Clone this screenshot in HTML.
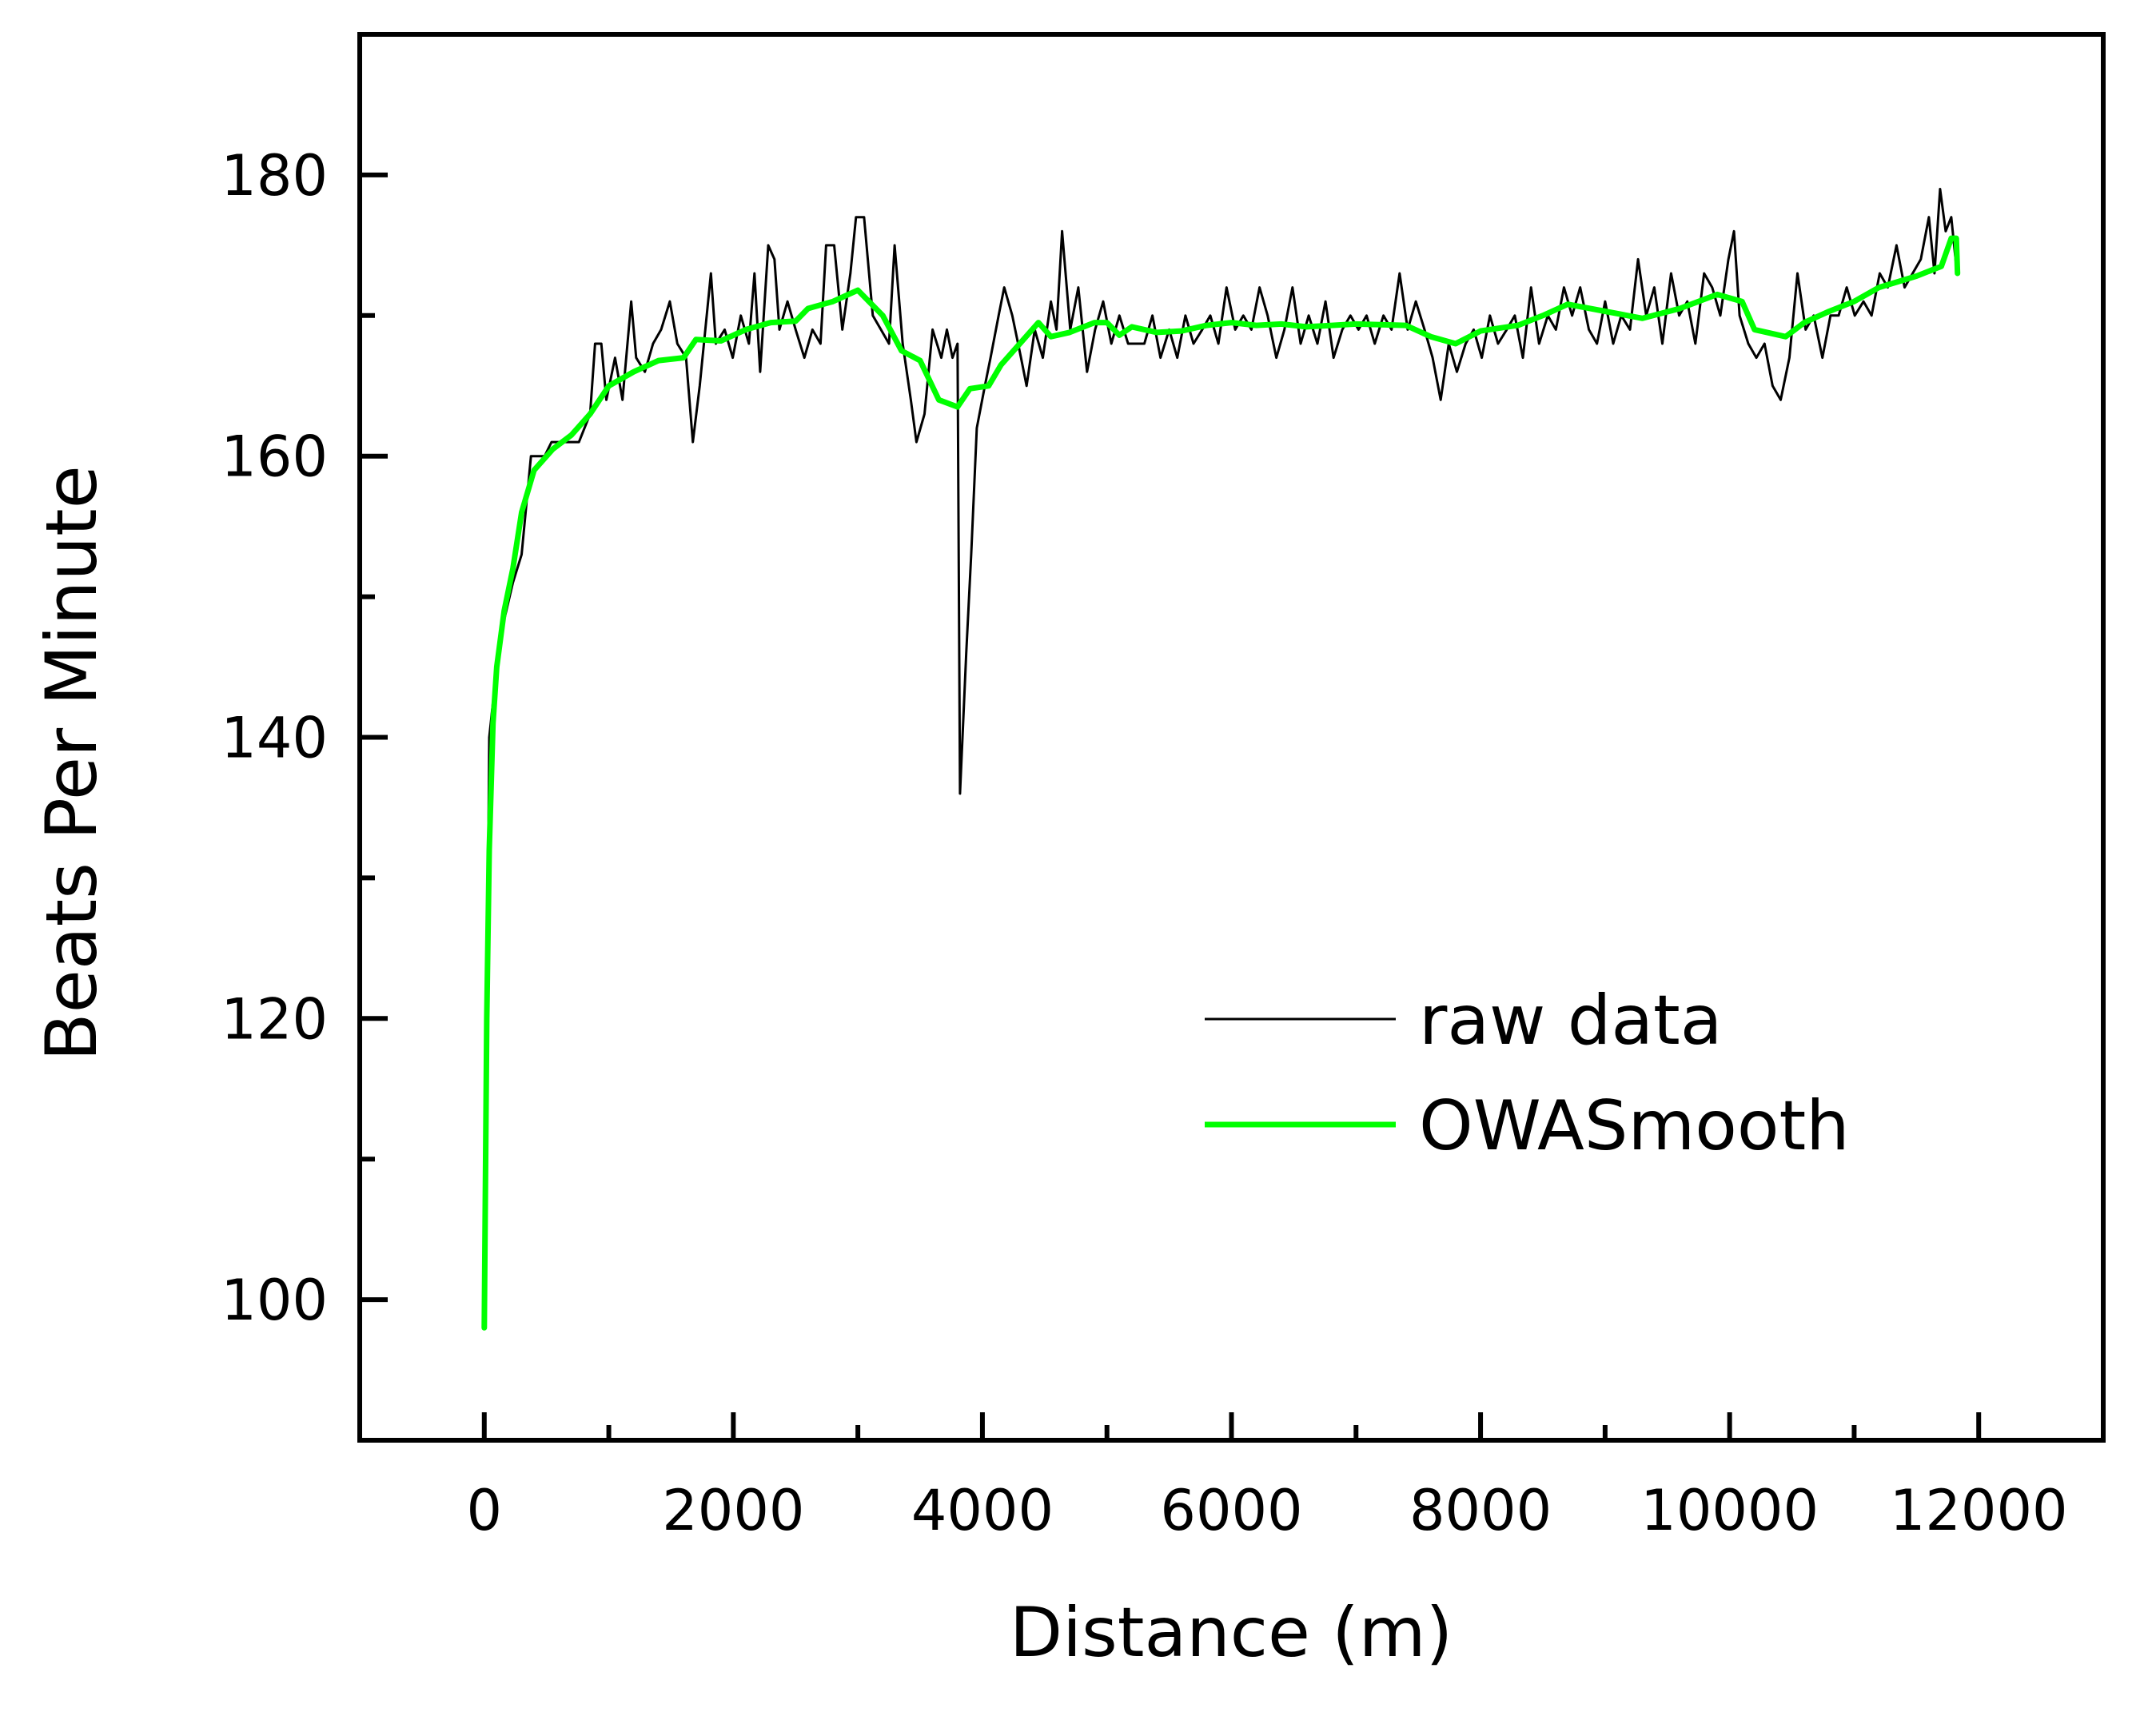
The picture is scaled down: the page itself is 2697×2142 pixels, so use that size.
<!DOCTYPE html>
<html><head><meta charset="utf-8"><style>
html,body{margin:0;padding:0;background:#fff;}
svg{display:block;font-family:"DejaVu Sans","Liberation Sans",sans-serif;}
</style></head><body>
<svg id="chart" width="2697" height="2142" viewBox="0 0 2697 2142" xmlns="http://www.w3.org/2000/svg">
<rect x="0" y="0" width="2697" height="2142" fill="#fff"/>
<g id="marks"></g>
<rect x="450" y="43" width="2181" height="1759" fill="none" stroke="#000" stroke-width="6"/>
<g id="axes"></g>
<text x="1540" y="2072" font-size="86" text-anchor="middle">Distance (m)</text>
<text x="0" y="0" font-size="88" text-anchor="middle" transform="translate(120,955) rotate(-90)">Beats Per Minute</text>
<g>
<line x1="1507" y1="1275" x2="1746" y2="1275" stroke="#000" stroke-width="3"/>
<text x="1775" y="1306" font-size="86">raw data</text>
<line x1="1507" y1="1407" x2="1746" y2="1407" stroke="#00ff00" stroke-width="7"/>
<text x="1775" y="1438" font-size="86">OWASmooth</text>
</g>
</svg>
<script>
const xTicks = [0, 2000, 4000, 6000, 8000, 10000, 12000];
const xMinorTicks = [1000, 3000, 5000, 7000, 9000, 11000];
const yTicks = [100, 120, 140, 160, 180];
const yMinorTicks = [110, 130, 150, 170];
const rawX = [0,40,100,150,230,300,375,485,540,650,760,850,890,940,980,1050,1110,1180,1220,1290,1355,1420,1490,1550,1620,1675,1730,1775,1820,1860,1930,1995,2060,2125,2170,2215,2280,2330,2370,2435,2500,2570,2635,2700,2745,2810,2875,2940,2985,3050,3120,3185,3250,3295,3360,3425,3470,3535,3600,3670,3715,3760,3800,3820,3870,3910,3955,4020,4065,4130,4175,4240,4310,4355,4420,4485,4550,4595,4640,4705,4770,4840,4905,4970,5035,5100,5170,5235,5300,5365,5430,5500,5565,5630,5695,5765,5830,5895,5960,6030,6095,6160,6225,6290,6360,6425,6490,6555,6620,6690,6755,6820,6890,6955,7020,7085,7150,7220,7285,7350,7415,7480,7550,7615,7680,7745,7810,7880,7945,8010,8075,8140,8210,8275,8340,8405,8470,8540,8605,8670,8735,8800,8870,8935,9000,9065,9130,9200,9265,9330,9395,9460,9530,9595,9660,9725,9795,9860,9925,9990,10035,10080,10150,10215,10280,10345,10410,10480,10545,10610,10675,10745,10810,10875,10940,11005,11075,11140,11205,11270,11340,11405,11470,11535,11600,11645,11690,11735,11780,11825];
const rawY = [98,140,145,148,151,153,160,160,161,161,161,163,168,168,164,167,164,171,167,166,168,169,171,168,167,161,165,169,173,168,169,167,170,168,173,166,175,174,169,171,169,167,169,168,175,175,169,173,177,177,170,169,168,175,168,164,161,163,169,167,169,167,168,136,146,153,162,165,167,170,172,170,167,165,169,167,171,169,176,169,172,166,169,171,168,170,168,168,168,170,167,169,167,170,168,169,170,168,172,169,170,169,172,170,167,169,172,168,170,168,171,167,169,170,169,170,168,170,169,173,169,171,169,167,164,168,166,168,169,167,170,168,169,170,167,172,168,170,169,172,170,172,169,168,171,168,170,169,174,170,172,168,173,170,171,168,173,172,170,174,176,170,168,167,168,165,164,167,173,169,170,167,170,170,172,170,171,170,173,172,175,172,173,174,177,173,179,176,177,173];
const smoothX = [0,20,40,70,100,160,230,300,400,550,700,850,1000,1200,1400,1600,1700,1900,2100,2300,2500,2600,2800,3000,3200,3350,3500,3650,3800,3900,4050,4150,4300,4450,4550,4700,4900,5000,5100,5200,5400,5600,5800,6000,6200,6400,6600,7000,7400,7600,7800,8000,8300,8500,8700,9000,9300,9600,9900,10100,10200,10300,10450,10600,10800,11000,11200,11500,11700,11780,11820,11830];
const smoothY = [98,120,132,141,145,149,152,156,159,160.5,161.5,163,165,166,166.8,167,168.3,168.2,169,169.5,169.6,170.5,171,171.8,170,167.5,166.8,164,163.5,164.8,165,166.5,168,169.5,168.5,168.8,169.5,169.5,168.6,169.2,168.8,168.9,169.3,169.5,169.3,169.4,169.2,169.4,169.3,168.5,168,168.9,169.3,170,170.8,170.3,169.8,170.5,171.5,171,169,168.8,168.5,169.5,170.3,171,172,172.8,173.5,175.5,175.5,173];

const NS = 'http://www.w3.org/2000/svg';
const L = 450, R = 2631, T = 43, B = 1802;
const xMin = -1000, xMax = 13000, yMin = 90, yMax = 190;
function sx(v){ return L + (v - xMin) / (xMax - xMin) * (R - L); }
function sy(v){ return B - (v - yMin) / (yMax - yMin) * (B - T); }
function mk(tag, attrs, parent){
  const e = document.createElementNS(NS, tag);
  for (const k in attrs) e.setAttribute(k, attrs[k]);
  parent.appendChild(e);
  return e;
}
const marks = document.getElementById('marks');
const axes = document.getElementById('axes');

let d = rawX.map((x,i)=>(i?'L':'M')+sx(x).toFixed(1)+' '+sy(rawY[i]).toFixed(1)).join(' ');
const raw = mk('path', {d:d, fill:'none', stroke:'#000', 'stroke-width':3, 'stroke-linejoin':'round'}, marks);



d = smoothX.map((x,i)=>(i?'L':'M')+sx(x).toFixed(1)+' '+sy(smoothY[i]).toFixed(1)).join(' ');
const sm = mk('path', {d:d, fill:'none', stroke:'#00ff00', 'stroke-width':7, 'stroke-linejoin':'round', 'stroke-linecap':'round'}, marks);



xTicks.forEach(v=>{
  const t = mk('line', {x1:sx(v), x2:sx(v), y1:B, y2:B-35, stroke:'#000', 'stroke-width':6}, axes);
  
  
  const l = mk('text', {x:sx(v), y:B+112, 'font-size':70, 'text-anchor':'middle'}, axes);
  l.textContent = v;
  
  
});
xMinorTicks.forEach(v=>{
  const t = mk('line', {x1:sx(v), x2:sx(v), y1:B, y2:B-19, stroke:'#000', 'stroke-width':6}, axes);
  
  
});
yTicks.forEach(v=>{
  const t = mk('line', {x1:L, x2:L+35, y1:sy(v), y2:sy(v), stroke:'#000', 'stroke-width':6}, axes);
  
  
  const l = mk('text', {x:L-40, y:sy(v)+25, 'font-size':70, 'text-anchor':'end'}, axes);
  l.textContent = v;
  
  
});
yMinorTicks.forEach(v=>{
  const t = mk('line', {x1:L, x2:L+19, y1:sy(v), y2:sy(v), stroke:'#000', 'stroke-width':6}, axes);
  
  
});
</script>
</body></html>
